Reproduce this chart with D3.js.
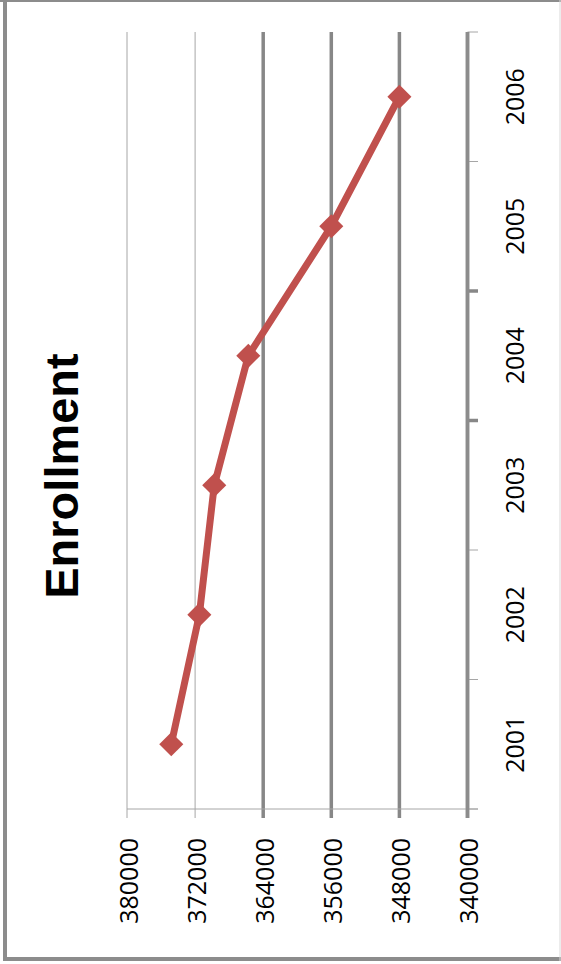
<!DOCTYPE html>
<html>
<head>
<meta charset="utf-8">
<script src="https://cdn.jsdelivr.net/npm/d3@7"></script>
<style>
  body { margin: 0; background: #fff; }
  text { font-family: "Open Sans", sans-serif; fill: #000; }
</style>
</head>
<body>
<div id="chart"></div>
<script>
// chart data
var years = ["2001", "2002", "2003", "2004", "2005", "2006"];
var enrollment = [374800, 371500, 369750, 365750, 356000, 348000];
var valueTicks = [380000, 372000, 364000, 356000, 348000, 340000];
var title = "Enrollment";

var W = 561, H = 964;

var svg = d3.select("#chart").append("svg")
    .attr("width", W)
    .attr("height", H);

// outer frame
svg.append("line").attr("x1", 0).attr("x2", W).attr("y1", 1).attr("y2", 1)
    .attr("stroke", "#8c8c8c").attr("stroke-width", 2);
svg.append("line").attr("x1", 5).attr("x2", 5).attr("y1", 0).attr("y2", 961)
    .attr("stroke", "#8c8c8c").attr("stroke-width", 4);
svg.append("line").attr("x1", 3).attr("x2", W).attr("y1", 959).attr("y2", 959)
    .attr("stroke", "#8c8c8c").attr("stroke-width", 4);
svg.append("line").attr("x1", 560).attr("x2", 560).attr("y1", 0).attr("y2", 961)
    .attr("stroke", "#d9d9d9").attr("stroke-width", 1);

// value scale runs horizontally, reversed
var x = d3.scaleLinear()
    .domain([380000, 340000])
    .range([127, 467.5]);

// categories run vertically, latest year on top
var y = d3.scaleBand()
    .domain(years.slice().reverse())
    .range([32, 809])
    .padding(0);

var plotTop = 32, plotBottom = 809;

function isThin(v) { return v > 364000; }

// gridlines
svg.append("g").selectAll("line")
    .data(valueTicks)
    .enter().append("line")
    .attr("x1", function(d) { return x(d); })
    .attr("x2", function(d) { return x(d); })
    .attr("y1", plotTop)
    .attr("y2", plotBottom + 9)
    .attr("stroke", function(d) { return isThin(d) ? "#a6a6a6" : "#878787"; })
    .attr("stroke-width", function(d) { return isThin(d) ? 1 : 3.5; });

// value axis line at bottom
svg.append("line")
    .attr("x1", x(380000)).attr("x2", 478)
    .attr("y1", plotBottom).attr("y2", plotBottom)
    .attr("stroke", "#a6a6a6").attr("stroke-width", 1);

// value axis labels
var xAxis = d3.axisBottom(x)
    .tickValues(valueTicks)
    .tickSize(0)
    .tickFormat(d3.format("d"));

var xGroup = svg.append("g")
    .attr("transform", "translate(0," + plotBottom + ")")
    .call(xAxis);
xGroup.select(".domain").remove();
xGroup.selectAll("text")
    .attr("transform", "translate(10,29) rotate(-90)")
    .attr("x", 0).attr("y", 0).attr("dy", 0)
    .style("text-anchor", "end")
    .style("font-size", "25px");

// category axis on the right
var boundaries = years.map(function(d) { return y(d); }).concat([plotBottom]);

svg.append("g").selectAll("line")
    .data(boundaries)
    .enter().append("line")
    .attr("x1", 467.5).attr("x2", 478)
    .attr("y1", function(d) { return d; })
    .attr("y2", function(d) { return d; })
    .attr("stroke", function(d, i) { return (i == 2 || i == 3) ? "#878787" : "#a6a6a6"; })
    .attr("stroke-width", function(d, i) { return (i == 2 || i == 3) ? 3.5 : 1; });

svg.append("line")
    .attr("x1", 467.5).attr("x2", 467.5)
    .attr("y1", plotTop).attr("y2", plotBottom + 9)
    .attr("stroke", "#8c8c8c").attr("stroke-width", 3.5);

var yAxis = d3.axisRight(y).tickSize(0);
var yGroup = svg.append("g")
    .attr("transform", "translate(467.5,0)")
    .call(yAxis);
yGroup.select(".domain").remove();
yGroup.selectAll("text")
    .attr("transform", "translate(56,0) rotate(-90)")
    .attr("x", 0).attr("y", 0).attr("dy", 0)
    .style("text-anchor", "middle")
    .style("font-size", "25px");

// series line
var line = d3.line()
    .x(function(d, i) { return x(d); })
    .y(function(d, i) { return y(years[i]) + y.bandwidth() / 2; });

svg.append("path")
    .datum(enrollment)
    .attr("d", line)
    .attr("fill", "none")
    .attr("stroke", "#c0504d")
    .attr("stroke-width", 7)
    .attr("stroke-linejoin", "round");

// diamond markers
var diamond = d3.symbol().type(d3.symbolSquare).size(290);
svg.append("g").selectAll("path")
    .data(enrollment)
    .enter().append("path")
    .attr("d", diamond)
    .attr("transform", function(d, i) {
        return "translate(" + x(d) + "," + (y(years[i]) + y.bandwidth() / 2) + ") rotate(45)";
    })
    .attr("fill", "#c0504d");

// title, rotated with the chart
svg.append("text")
    .attr("transform", "translate(78,476) rotate(-90)")
    .style("text-anchor", "middle")
    .style("font-family", "'Liberation Sans', Arial, sans-serif")
    .style("font-weight", "bold")
    .style("font-size", "47px")
    .text(title);
</script>
</body>
</html>
